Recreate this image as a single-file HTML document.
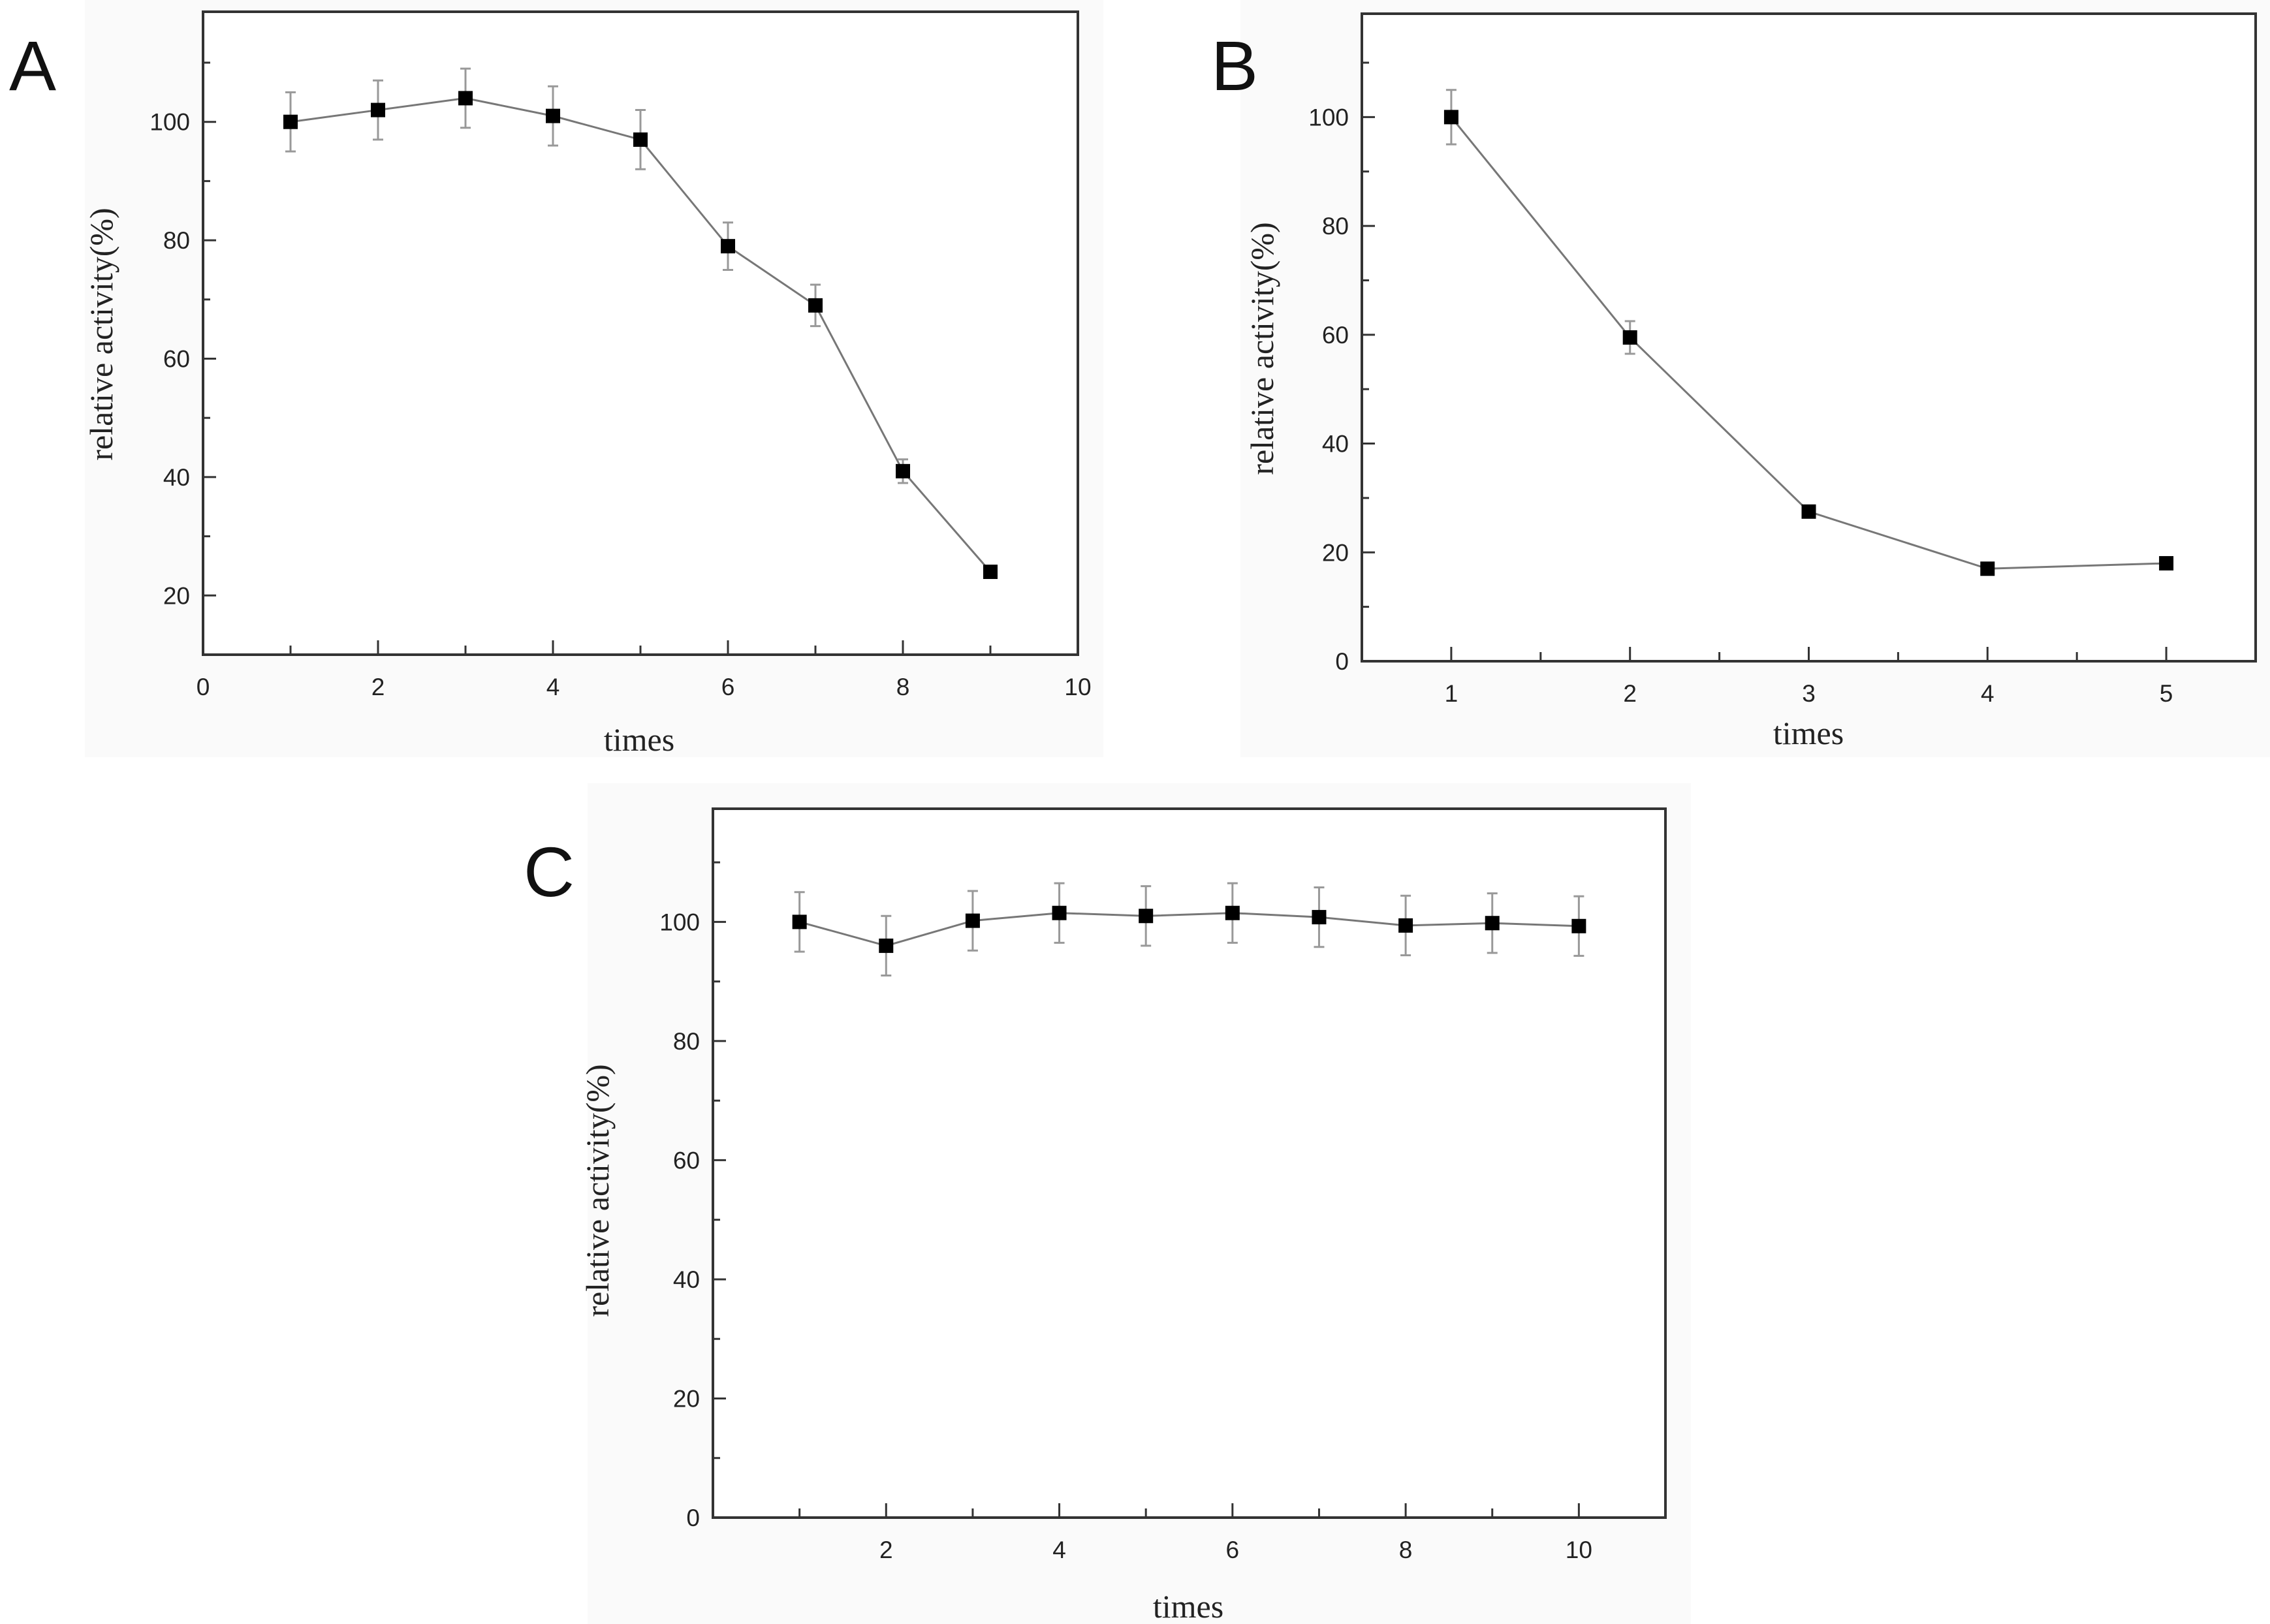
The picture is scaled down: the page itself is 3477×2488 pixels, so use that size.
<!DOCTYPE html>
<html><head><meta charset="utf-8"><style>
html,body{margin:0;padding:0;background:#fff}
svg{display:block}
.tick{font-family:"Liberation Sans",sans-serif;font-size:37px;fill:#222}
.title{font-family:"Liberation Serif",serif;font-size:50px;fill:#222}
.plabel{font-family:"Liberation Sans",sans-serif;font-size:108px;fill:#111}
</style></head><body>
<svg id="fig" width="3477" height="2488" viewBox="0 0 3477 2488" xmlns="http://www.w3.org/2000/svg">
<rect x="130" y="0" width="1560" height="1160" fill="#fafafa"/>
<rect x="1900" y="0" width="1577" height="1160" fill="#fafafa"/>
<rect x="900" y="1200" width="1690" height="1288" fill="#fafafa"/>
</svg>
<script>
const aTimes=[1,2,3,4,5,6,7,8,9];
const aValues=[100,102,104,101,97,79,69,41,24];
const aErrors=[5,5,5,5,5,4,3.5,2,1];
const aXTicks=[0,2,4,6,8,10];
const aYTicks=[20,40,60,80,100];

const bTimes=[1,2,3,4,5];
const bValues=[100,59.5,27.5,17,18];
const bErrors=[5,3,1,0.5,0.5];
const bXTicks=[1,2,3,4,5];
const bYTicks=[0,20,40,60,80,100];

const cTimes=[1,2,3,4,5,6,7,8,9,10];
const cValues=[100,96,100.2,101.5,101,101.5,100.8,99.4,99.8,99.3];
const cErrors=[5,5,5,5,5,5,5,5,5,5];
const cXTicks=[2,4,6,8,10];
const cYTicks=[0,20,40,60,80,100];

const svg=document.getElementById('fig');
const NS='http://www.w3.org/2000/svg';
function mk(tag,attrs,parent){const e=document.createElementNS(NS,tag);for(const k in attrs)e.setAttribute(k,attrs[k]);(parent||svg).appendChild(e);return e;}

function panel(id,letter,box,xr,yr,xTicks,xMinorStep,yTicks,times,vals,errs,labelPos,ytPos,xtPos){
  const g=mk('g',{});
  
  
  const X=v=>box.l+(v-xr[0])/(xr[1]-xr[0])*(box.r-box.l);
  const Y=v=>box.b-(v-yr[0])/(yr[1]-yr[0])*(box.b-box.t);
  const fr=mk('rect',{x:box.l,y:box.t,width:box.r-box.l,height:box.b-box.t,fill:'#fff',stroke:'#333','stroke-width':4},g);
  
  
  const xs=Math.ceil(xr[0]/xMinorStep)*xMinorStep;
  for(let v=xs;v<=xr[1]+1e-9;v+=xMinorStep){
    const major=xTicks.some(t=>Math.abs(t-v)<1e-6);
    mk('line',{x1:X(v),x2:X(v),y1:box.b,y2:box.b-(major?22:14),stroke:'#333','stroke-width':3},g);
  }
  xTicks.forEach(t=>{
    const tx=mk('text',{x:X(t),y:box.b+62,'text-anchor':'middle',class:'tick'},g);
    tx.textContent=t;
    
    
  });
  const ys=Math.ceil(yr[0]/10)*10;
  for(let v=ys;v<=yr[1];v+=10){
    const major=yTicks.includes(v);
    mk('line',{x1:box.l,x2:box.l+(major?20:11),y1:Y(v),y2:Y(v),stroke:'#333','stroke-width':3},g);
  }
  yTicks.forEach(t=>{
    const ty=mk('text',{x:box.l-20,y:Y(t)+13,'text-anchor':'end',class:'tick'},g);
    ty.textContent=t;
    
    
  });
  const pts=times.map((t,i)=>X(t)+','+Y(vals[i])).join(' ');
  const pl=mk('polyline',{points:pts,fill:'none',stroke:'#777','stroke-width':3},g);
  
  
  times.forEach((t,i)=>{
    const x=X(t),y1=Y(vals[i]+errs[i]),y2=Y(vals[i]-errs[i]);
    const eb=mk('path',{d:`M${x},${y1}V${y2}M${x-8},${y1}H${x+8}M${x-8},${y2}H${x+8}`,stroke:'#999','stroke-width':3,fill:'none'},g);
    
    
  });
  times.forEach((t,i)=>{
    const m=mk('rect',{x:X(t)-11,y:Y(vals[i])-11,width:22,height:22,fill:'#000'},g);
    
    
  });
  const yt=mk('text',{x:ytPos[0],y:ytPos[1],'text-anchor':'middle',class:'title',transform:`rotate(-90 ${ytPos[0]} ${ytPos[1]})`},g);
  yt.textContent='relative activity(%)';
  
  
  const xt=mk('text',{x:xtPos[0],y:xtPos[1],'text-anchor':'middle',class:'title'},g);
  xt.textContent='times';
  
  
  const pl2=mk('text',{x:labelPos[0],y:labelPos[1],'text-anchor':'middle',class:'plabel'},g);
  pl2.textContent=letter;
  
  
}

panel('a','A',{l:311,r:1651,t:18,b:1003},[0,10],[10,118.6],aXTicks,1,aYTicks,aTimes,aValues,aErrors,[50,138],[172,512],[979,1150]);
panel('b','B',{l:2086,r:3455,t:21,b:1013},[0.5,5.5],[0,119],bXTicks,0.5,bYTicks,bTimes,bValues,bErrors,[1891,138],[1950,534],[2770,1140]);
panel('c','C',{l:1092,r:2551,t:1239,b:2325},[0,11],[0,119],cXTicks,1,cYTicks,cTimes,cValues,cErrors,[841,1373],[932,1824],[1820,2478]);
</script>
</body></html>
